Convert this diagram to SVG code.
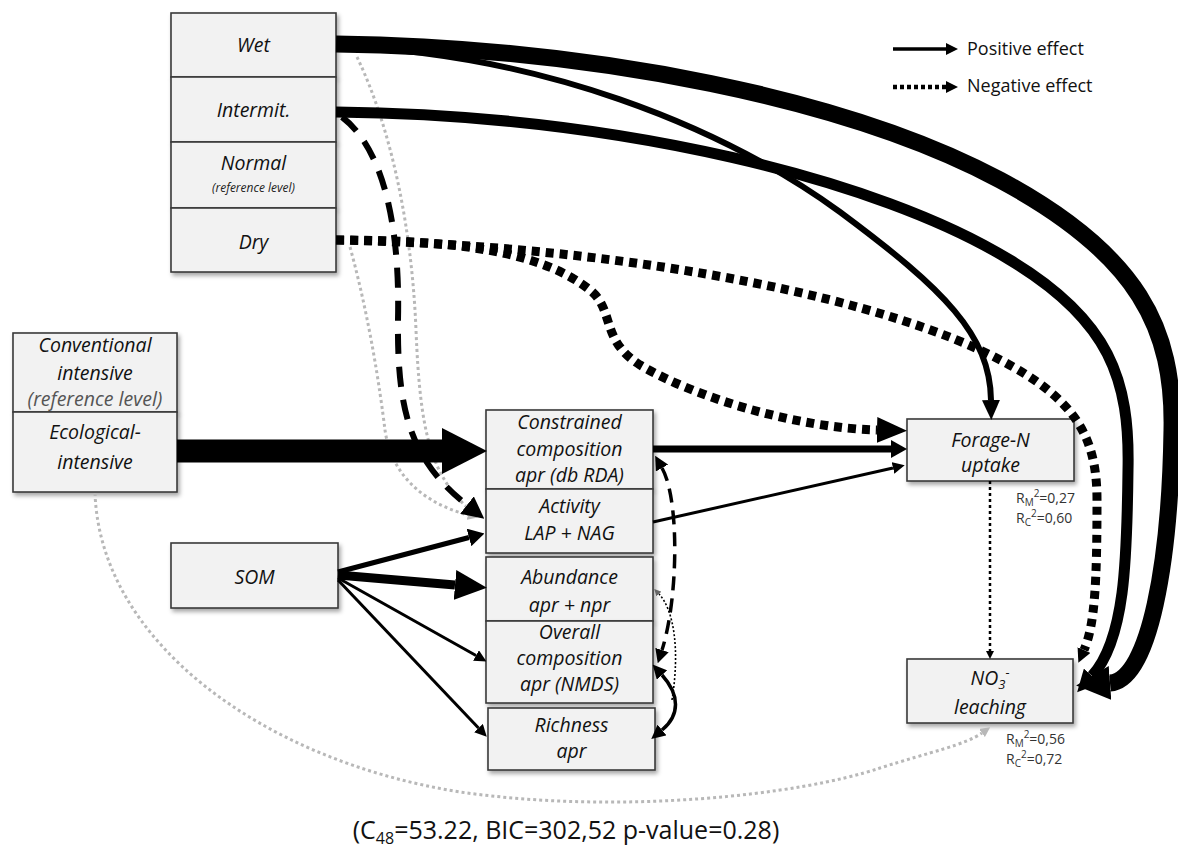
<svg xmlns="http://www.w3.org/2000/svg" width="1178" height="852" viewBox="0 0 1178 852">
<style>
.box{fill:#f2f2f2;stroke:#3a3a3a;stroke-width:1.6;filter:url(#sh)}
.t{font-family:"Open Sans","DejaVu Sans",sans-serif;font-style:italic;font-size:19.5px;fill:#111;text-anchor:middle}
.ts{font-family:"Open Sans","DejaVu Sans",sans-serif;font-style:italic;font-size:12px;fill:#222;text-anchor:middle}
.tg{fill:#555}
.r{font-family:"Open Sans","DejaVu Sans",sans-serif;font-size:14px;fill:#333}
.leg{font-family:"Open Sans","DejaVu Sans",sans-serif;font-size:18px;fill:#111}
.cap{font-family:"Open Sans","DejaVu Sans",sans-serif;font-size:25px;fill:#111;text-anchor:middle}
.c{fill:none;stroke:#000;stroke-linecap:butt}
.dot{stroke-dasharray:8 6}
.grey{fill:none;stroke:#b8b8b8;stroke-width:3;stroke-dasharray:3 3}
</style>
<defs>
<filter id="sh" x="-10%" y="-10%" width="130%" height="140%">
<feDropShadow dx="2" dy="3" stdDeviation="2" flood-color="#000" flood-opacity="0.35"/>
</filter>
<marker id="mEco" markerUnits="userSpaceOnUse" viewBox="0 -23 45 46" markerWidth="45" markerHeight="46" refX="0" refY="0" orient="auto"><path d="M0,-23L45,0L0,23z" fill="#000"/></marker>
<marker id="mWet" markerUnits="userSpaceOnUse" viewBox="0 -17 34 34" markerWidth="34" markerHeight="34" refX="0" refY="0" orient="auto"><path d="M0,-17L34,0L0,17z" fill="#000"/></marker>
<marker id="m22" markerUnits="userSpaceOnUse" viewBox="0 -11 22 22" markerWidth="22" markerHeight="22" refX="0" refY="0" orient="auto"><path d="M0,-11L22,0L0,11z" fill="#000"/></marker>
<marker id="m20" markerUnits="userSpaceOnUse" viewBox="0 -9 20 18" markerWidth="20" markerHeight="18" refX="0" refY="0" orient="auto"><path d="M0,-9L20,0L0,9z" fill="#000"/></marker>
<marker id="mDry" markerUnits="userSpaceOnUse" viewBox="0 -13 30 26" markerWidth="30" markerHeight="26" refX="0" refY="0" orient="auto"><path d="M0,-13L30,0L0,13z" fill="#000"/></marker>
<marker id="mAb" markerUnits="userSpaceOnUse" viewBox="0 -15 32 30" markerWidth="32" markerHeight="30" refX="0" refY="0" orient="auto"><path d="M0,-15L32,0L0,15z" fill="#000"/></marker>
<marker id="m16" markerUnits="userSpaceOnUse" viewBox="0 -9 16 18" markerWidth="16" markerHeight="18" refX="0" refY="0" orient="auto"><path d="M0,-9L16,0L0,9z" fill="#000"/></marker>
<marker id="m14" markerUnits="userSpaceOnUse" viewBox="0 -7 14 14" markerWidth="14" markerHeight="14" refX="0" refY="0" orient="auto-start-reverse"><path d="M0,-7L14,0L0,7z" fill="#000"/></marker>
<marker id="m12" markerUnits="userSpaceOnUse" viewBox="0 -6 12 12" markerWidth="12" markerHeight="12" refX="0" refY="0" orient="auto"><path d="M0,-6L12,0L0,6z" fill="#000"/></marker>
<marker id="m8" markerUnits="userSpaceOnUse" viewBox="0 -4 8 8" markerWidth="8" markerHeight="8" refX="0" refY="0" orient="auto"><path d="M0,-4L8,0L0,4z" fill="#000"/></marker>
<marker id="m7g" markerUnits="userSpaceOnUse" viewBox="0 -3.5 7 7" markerWidth="7" markerHeight="7" refX="0" refY="0" orient="auto"><path d="M0,-3.5L7,0L0,3.5z" fill="#666"/></marker>
<marker id="mg" markerUnits="userSpaceOnUse" viewBox="0 -5 10 10" markerWidth="10" markerHeight="10" refX="0" refY="0" orient="auto"><path d="M0,-5L10,0L0,5z" fill="#b8b8b8"/></marker>
</defs>

<g id="node-wet"><rect class="box" x="171" y="13" width="165" height="64"/><text class="t" x="253.5" y="52">Wet</text></g>
<g id="node-intermit"><rect class="box" x="171" y="77" width="165" height="65"/><text class="t" x="253.5" y="117">Intermit.</text></g>
<g id="node-normal"><rect class="box" x="171" y="142" width="165" height="66"/><text class="t" x="253.5" y="170">Normal</text><text class="ts" x="253.5" y="192">(reference level)</text></g>
<g id="node-dry"><rect class="box" x="171" y="208" width="165" height="64"/><text class="t" x="253.5" y="249">Dry</text></g>

<g id="node-conventional"><rect class="box" x="13" y="333" width="164" height="79"/><text class="t" x="95" y="352">Conventional</text><text class="t" x="95" y="380">intensive</text><text class="t tg" x="95" y="406">(reference level)</text></g>
<g id="node-ecological"><rect class="box" x="13" y="412" width="164" height="80"/><text class="t" x="95" y="439">Ecological-</text><text class="t" x="95" y="469">intensive</text></g>

<g id="node-som"><rect class="box" x="171" y="543" width="167" height="65"/><text class="t" x="254.5" y="584">SOM</text></g>

<g id="node-constrained"><rect class="box" x="486" y="410" width="167" height="79"/><text class="t" x="569.5" y="429">Constrained</text><text class="t" x="569.5" y="456">composition</text><text class="t" x="569.5" y="482">apr (db RDA)</text></g>
<g id="node-activity"><rect class="box" x="486" y="489" width="167" height="64"/><text class="t" x="569.5" y="513">Activity</text><text class="t" x="569.5" y="540">LAP + NAG</text></g>
<g id="node-abundance"><rect class="box" x="486" y="557" width="167" height="64"/><text class="t" x="569.5" y="584">Abundance</text><text class="t" x="569.5" y="612">apr + npr</text></g>
<g id="node-overall"><rect class="box" x="486" y="621" width="167" height="82"/><text class="t" x="569.5" y="639">Overall</text><text class="t" x="569.5" y="665">composition</text><text class="t" x="569.5" y="691">apr (NMDS)</text></g>
<g id="node-richness"><rect class="box" x="488" y="708" width="167" height="62"/><text class="t" x="571.5" y="732">Richness</text><text class="t" x="571.5" y="758">apr</text></g>

<g id="node-forage"><rect class="box" x="907" y="419" width="167" height="62"/><text class="t" x="990.5" y="447">Forage-N</text><text class="t" x="990.5" y="472">uptake</text></g>
<g id="node-no3"><rect class="box" x="907" y="659" width="166" height="64"/><text class="t" x="990" y="685">NO<tspan font-size="13" dy="4">3</tspan><tspan font-size="13" dy="-12">-</tspan></text><text class="t" x="990" y="714">leaching</text></g>

<g id="r2-labels">
<text class="r" x="1016" y="503">R<tspan font-size="10" dy="3">M</tspan><tspan font-size="10" dy="-9">2</tspan><tspan dy="6">=0,27</tspan></text>
<text class="r" x="1016" y="523">R<tspan font-size="10" dy="3">C</tspan><tspan font-size="10" dy="-9">2</tspan><tspan dy="6">=0,60</tspan></text>
<text class="r" x="1006" y="744">R<tspan font-size="10" dy="3">M</tspan><tspan font-size="10" dy="-9">2</tspan><tspan dy="6">=0,56</tspan></text>
<text class="r" x="1006" y="764">R<tspan font-size="10" dy="3">C</tspan><tspan font-size="10" dy="-9">2</tspan><tspan dy="6">=0,72</tspan></text>
</g>

<g id="connectors">
<path class="grey" d="M357,57 C392,130 412,230 416,330 C420,430 430,475 470,510" marker-end="url(#mg)"/>
<path class="grey" d="M350,247 C370,320 380,390 385,430 C392,480 430,505 468,515" marker-end="url(#mg)"/>
<path class="grey" d="M95,493 C100,640 260,760 460,792 C620,815 800,795 880,768 C930,752 965,745 982,733" marker-end="url(#mg)"/>
<path class="c" stroke-width="17" d="M336,44 C600,48 850,100 1000,180 C1140,255 1174,330 1172,430 C1170,560 1150,680 1110,683" marker-end="url(#mWet)"/>
<path class="c" stroke-width="11" d="M336,112 C620,115 880,180 1010,260 C1110,320 1130,380 1128,470 C1127,560 1125,640 1092,676" marker-end="url(#m22)"/>
<path class="c" stroke-width="6" d="M338,46 C540,54 720,125 840,212 C945,290 990,335 991,400" marker-end="url(#m20)"/>
<path class="c dot" stroke-width="9" d="M336,240 C600,245 850,290 980,350 C1070,392 1097,430 1097,500 C1097,580 1095,625 1084,650" marker-end="url(#m14)"/>
<path class="c dot" stroke-width="9" d="M336,240 C450,240 540,250 590,290 C615,310 600,340 640,365 C700,400 800,428 877,430" marker-end="url(#mDry)"/>
<path class="c" stroke-width="6" stroke-dasharray="20 13" d="M342,117 C385,150 400,230 398,320 C397,410 410,460 467,505" marker-end="url(#m22)"/>
<path class="c" stroke-width="23" d="M177,451 L442,451" marker-end="url(#mEco)"/>
<path class="c" stroke-width="7" d="M653,449 L891,449" marker-end="url(#m16)"/>
<path class="c" stroke-width="3" d="M653,522 L893,468" marker-end="url(#m12)"/>
<path class="c" stroke-width="5" d="M338,572 L469,537.5" marker-end="url(#m16)"/>
<path class="c" stroke-width="9" d="M338,575 L455,585" marker-end="url(#mAb)"/>
<path class="c" stroke-width="3" d="M338,578 L476,655.5" marker-end="url(#m12)"/>
<path class="c" stroke-width="3" d="M338,580 L478.5,728" marker-end="url(#m12)"/>
<path class="c" stroke-width="3.5" stroke-dasharray="14 8" d="M662,468 C680,500 678,600 662,650" marker-start="url(#m14)" marker-end="url(#m14)"/>
<path class="c" stroke-width="3.5" d="M662,675 C680,695 680,715 662,730" marker-start="url(#m14)" marker-end="url(#m14)"/>
<path class="c" stroke="#666" stroke-width="1.6" stroke-dasharray="2 2" d="M672,700 C680,650 674,610 659,594" marker-end="url(#m7g)"/>
<path class="c" stroke-width="2.5" stroke-dasharray="3 3" d="M990,481 L990,651" marker-end="url(#m8)"/>
</g>

<g id="legend">
<path class="c" stroke-width="3.5" d="M893,49 L946,49" marker-end="url(#m12)"/>
<text class="leg" x="967" y="55">Positive effect</text>
<path class="c" stroke-width="4.5" stroke-dasharray="4 3" d="M893,87 L946,87" marker-end="url(#m12)"/>
<text class="leg" x="967" y="92">Negative effect</text>
</g>

<text class="cap" x="566" y="839">(C<tspan font-size="16" dy="5">48</tspan><tspan dy="-5">=53.22, BIC=302,52 p-value=0.28)</tspan></text>
</svg>
